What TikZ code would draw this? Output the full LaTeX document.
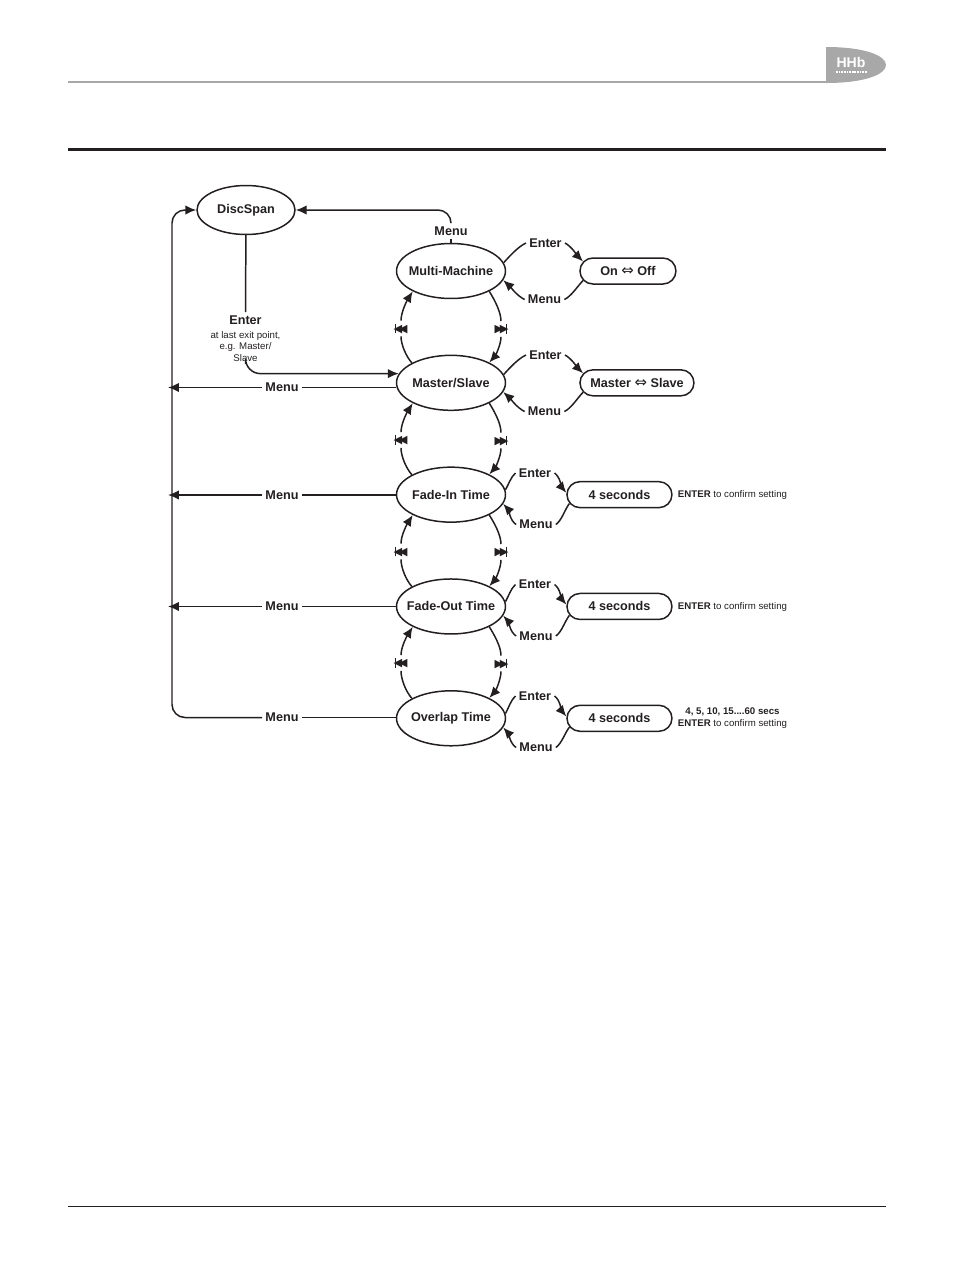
\documentclass[tikz,border=0pt]{standalone}
\usepackage{fontspec}
\setmainfont{Liberation Sans}
\newfontfamily\symfont{DejaVu Sans}
\usetikzlibrary{positioning, arrows.meta, shapes.geometric, shapes.misc}
\definecolor{ink}{HTML}{231F20}
\definecolor{logogray}{HTML}{A8A8A8}
\newcommand{\skipnext}{{\fontsize{6.4pt}{6pt}\symfont ▶\kern-0.3em▶\kern-0.18em\rule[-0.1em]{0.55pt}{0.85em}}}
\newcommand{\skipback}{{\fontsize{6.4pt}{6pt}\symfont\rule[-0.1em]{0.55pt}{0.85em}\kern-0.18em◀\kern-0.3em◀}}
\newcommand{\swapsign}{{\fontsize{8.5pt}{7pt}\symfont\mdseries\raisebox{-0.04em}{⇔}}}
\newcommand{\statename}[1]{\makebox[0pt]{#1}}

\begin{document}
\begin{tikzpicture}[x=0.02cm, y=-0.02cm, node distance=1.107cm and 1.46cm,
    every node/.style={font=\fontsize{7.2pt}{8.6pt}\selectfont\bfseries, text=ink},
    state/.style={ellipse, draw=ink, line width=0.85pt, minimum width=2.18cm, minimum height=1.1cm, inner sep=0pt},
    value/.style={rounded rectangle, draw=ink, line width=0.85pt, minimum width=1.92cm, minimum height=0.52cm, inner sep=0pt},
    label/.style={inner sep=0.06cm},
    glyph/.style={inner sep=0pt, minimum height=0.3cm, minimum width=0.3cm},
    note/.style={font=\fontsize{5.5pt}{6.6pt}\selectfont, align=center, inner sep=0pt},
    wire/.style={draw=ink, line width=0.85pt, looseness=0.75},
    arrow/.style={wire, -{Latex[length=0.22cm, width=0.19cm]}}]

  \useasboundingbox (0,0) rectangle (954,1275);

  % page furniture
  \fill[logogray] (826,47) .. controls (866,47) and (886,56) .. (886,65) .. controls (886,74) and (866,83) .. (826,83) -- cycle;
  \node[text=white, font=\fontsize{8pt}{9pt}\selectfont\bfseries, inner sep=0pt] (logo) at (851,62.5) {HHb};
  \draw[white, line width=0.6pt, dash pattern=on 1pt off 0.5pt] (836,72) -- (867,72);
  \draw[logogray, line width=0.8pt] (68,82) -- (826,82);
  \draw[ink, line width=1.7pt] (68,149.5) -- (886,149.5);
  \draw[ink, line width=0.5pt] (68,1206) -- (886,1206);

  % menu states
  \node[state, minimum width=1.96cm, minimum height=0.98cm] (disc) at (246,210) {\statename{DiscSpan}};
  \node[state] (multi) at (451,271) {\statename{Multi-Machine}};
  \node[state, below=of multi] (master) {\statename{Master/Slave}};
  \node[state, below=of master] (fadein) {\statename{Fade-In Time}};
  \node[state, below=of fadein] (fadeout) {\statename{Fade-Out Time}};
  \node[state, below=of fadeout] (overlap) {\statename{Overlap Time}};

  % settings
  \node[value, right=of multi] (onoff) {On \swapsign\ Off};
  \node[value, right=of master, minimum width=2.28cm] (mslave) {Master \swapsign\ Slave};
  \node[value, right=1.2cm of fadein, minimum width=2.1cm] (secin) {4 seconds};
  \node[value, right=1.2cm of fadeout, minimum width=2.1cm] (secout) {4 seconds};
  \node[value, right=1.2cm of overlap, minimum width=2.1cm] (secover) {4 seconds};

  \node[note] (notein) at (732.5,495) {\textbf{ENTER} to confirm setting};
  \node[note] (noteout) at (732.5,606.5) {\textbf{ENTER} to confirm setting};
  \node[note] (noteover) at (732.5,718) {\textbf{4, 5, 10, 15....60 secs}\\\textbf{ENTER} to confirm setting};

  % labels
  \node[label] (menutop) at (451,231) {Menu};
  \node[label] (enterdisc) at (245.5,320) {Enter};
  \node[note, below=0.02cm of enterdisc, inner ysep=0.04cm] (enternote) {at last exit point,\\e.g. Master/\\Slave};
  \node[label] (entera) at (545.5,243) {Enter};
  \node[label] (menua) at (544.5,299.5) {Menu};
  \node[label] (enterb) at (545.5,355) {Enter};
  \node[label] (menub) at (544.5,411.5) {Menu};
  \node[label] (enterc) at (535,473) {Enter};
  \node[label] (menuc) at (536,524.5) {Menu};
  \node[label] (enterd) at (535,584.5) {Enter};
  \node[label] (menud) at (536,636) {Menu};
  \node[label] (entere) at (535,696) {Enter};
  \node[label] (menue) at (536,747.5) {Menu};
  \node[label] (backb) at (282,387.5) {Menu};
  \node[label] (backc) at (282,495) {Menu};
  \node[label] (backd) at (282,606.5) {Menu};
  \node[label] (backe) at (282,717.5) {Menu};

  \node[glyph] (nexta) at (501,329) {\skipnext};
  \node[glyph] (preva) at (401,328.5) {\skipback};
  \node[glyph] (nextb) at (501,440.5) {\skipnext};
  \node[glyph] (prevb) at (401,440) {\skipback};
  \node[glyph] (nextc) at (501,552) {\skipnext};
  \node[glyph] (prevc) at (401,551.5) {\skipback};
  \node[glyph] (nextd) at (501,663.5) {\skipnext};
  \node[glyph] (prevd) at (401,663) {\skipback};

  \coordinate (tipb) at (168,387.5);
  \coordinate (tipc) at (168,495);
  \coordinate (tipd) at (168,606.5);
  \coordinate (spine) at (172,717.5);

  % top of the menu
  \draw[wire] (multi) -- (menutop);
  \draw[arrow, rounded corners=0.26cm] (menutop.north) |- (disc.east);
  \draw[wire] (disc) -- (enterdisc);
  \draw[arrow, rounded corners=0.3cm] (enternote.south) |- (master.170);

  % back to DiscSpan
  \draw[wire] (overlap.west |- backe) -- (backe);
  \draw[arrow, rounded corners=0.26cm] (backe) -- (spine) |- (disc.west);
  \draw[wire] (master.west |- backb) -- (backb);
  \draw[arrow] (backb) -- (tipb);
  \draw[wire] (fadein.west |- backc) -- (backc);
  \draw[arrow] (backc) -- (tipc);
  \draw[wire] (fadeout.west |- backd) -- (backd);
  \draw[arrow] (backd) -- (tipd);

  % enter and menu, first two rows
  \draw[wire] (multi.9) to[out=48, in=205] (entera.west);
  \draw[arrow] (entera.east) to[out=-28, in=135] (onoff.168);
  \draw[wire] (onoff.192) to[out=-135, in=25] (menua.east);
  \draw[arrow] (menua.west) to[out=155, in=-42] (multi.-10);
  \draw[wire] (master.9) to[out=48, in=205] (enterb.west);
  \draw[arrow] (enterb.east) to[out=-28, in=135] (mslave.170);
  \draw[wire] (mslave.190) to[out=-135, in=25] (menub.east);
  \draw[arrow] (menub.west) to[out=155, in=-42] (master.-10);

  % enter and menu, timed rows
  \draw[wire] (fadein.5) to[out=60, in=220] (enterc.west);
  \draw[arrow] (enterc.east) to[out=-35, in=130] (secin.178);
  \draw[wire] (secin.190) to[out=-128, in=35] (menuc.east);
  \draw[arrow] (menuc.west) to[out=148, in=-48] (fadein.-10);
  \draw[wire] (fadeout.5) to[out=60, in=220] (enterd.west);
  \draw[arrow] (enterd.east) to[out=-35, in=130] (secout.178);
  \draw[wire] (secout.190) to[out=-128, in=35] (menud.east);
  \draw[arrow] (menud.west) to[out=148, in=-48] (fadeout.-10);
  \draw[wire] (overlap.5) to[out=60, in=220] (entere.west);
  \draw[arrow] (entere.east) to[out=-35, in=130] (secover.178);
  \draw[wire] (secover.190) to[out=-128, in=35] (menue.east);
  \draw[arrow] (menue.west) to[out=148, in=-48] (overlap.-10);

  % next and previous item
  \draw[wire] (multi.-28) to[out=-58, in=90] (nexta.north);
  \draw[arrow] (nexta.south) to[out=-90, in=48] (master.28);
  \draw[wire] (master.153) to[out=132, in=-90] (preva.south);
  \draw[arrow] (preva.north) to[out=90, in=-122] (multi.208);
  \draw[wire] (master.-28) to[out=-58, in=90] (nextb.north);
  \draw[arrow] (nextb.south) to[out=-90, in=48] (fadein.28);
  \draw[wire] (fadein.153) to[out=132, in=-90] (prevb.south);
  \draw[arrow] (prevb.north) to[out=90, in=-122] (master.208);
  \draw[wire] (fadein.-28) to[out=-58, in=90] (nextc.north);
  \draw[arrow] (nextc.south) to[out=-90, in=48] (fadeout.28);
  \draw[wire] (fadeout.153) to[out=132, in=-90] (prevc.south);
  \draw[arrow] (prevc.north) to[out=90, in=-122] (fadein.208);
  \draw[wire] (fadeout.-28) to[out=-58, in=90] (nextd.north);
  \draw[arrow] (nextd.south) to[out=-90, in=48] (overlap.28);
  \draw[wire] (overlap.153) to[out=132, in=-90] (prevd.south);
  \draw[arrow] (prevd.north) to[out=90, in=-122] (fadeout.208);
\end{tikzpicture}
\end{document}
